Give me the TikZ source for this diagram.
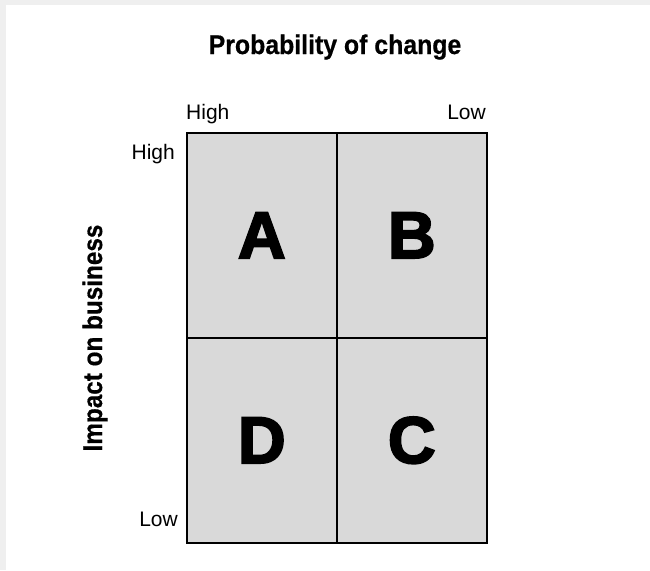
\documentclass[tikz,border=0pt]{standalone}
\usepackage{fontspec}
\usepackage{graphicx}
\setmainfont{Liberation Sans}
\newfontfamily\bigletter[FakeBold=3]{Liberation Sans Bold}
\newfontfamily\heavytitle[FakeBold=0.6]{Liberation Sans Bold}
\tikzset{
  cell/.style={draw=black, line width=1.6pt, fill=cellgray},
  axistitle/.style={font=\heavytitle\fontsize{27}{32}\selectfont, inner sep=0pt},
  ticklabel/.style={font=\fontsize{21}{25}\selectfont, inner sep=0pt},
  letter/.style={font=\bigletter\fontsize{66}{70}\selectfont, inner sep=0pt},
}
\definecolor{cellgray}{HTML}{D9D9D9}
\definecolor{edgegray}{HTML}{EFEFEF}
\begin{document}
\begin{tikzpicture}[x=1pt,y=-1pt]
\useasboundingbox (0,0) rectangle (650,570);
\fill[white] (0,0) rectangle (650,570);
\fill[edgegray] (0,0) rectangle (6,570);
\fill[edgegray] (0,0) rectangle (650,5);
% cells
\node[cell, minimum width=150pt, minimum height=205pt, anchor=north west, inner sep=0pt] (A) at (186,132) {};
\node[cell, minimum width=150pt, minimum height=205pt, anchor=north west, inner sep=0pt] (B) at (336,132) {};
\node[cell, minimum width=150pt, minimum height=205pt, anchor=north west, inner sep=0pt] (D) at (186,337) {};
\node[cell, minimum width=150pt, minimum height=205pt, anchor=north west, inner sep=0pt] (C) at (336,337) {};
\node[letter] (la) at (A.center) {A};
\node[letter] (lb) at (B.center) {B};
\node[letter] (ld) at (D.center) {D};
\node[letter] (lc) at (C.center) {C};
% titles
\node[axistitle, anchor=base] (ptitle) at (335,54) {\scalebox{0.92}[1]{Probability of change}};
\node[axistitle, anchor=base, rotate=90] (ititle) at (102,338) {\scalebox{0.9}[1]{Impact on business}};
% tick labels
\node[ticklabel, anchor=base west] (htop) at (186,119) {High};
\node[ticklabel, anchor=base east] (ltop) at (486,119) {Low};
\node[ticklabel, anchor=base east] (hleft) at (175,159) {High};
\node[ticklabel, anchor=base east] (lleft) at (178,526) {Low};
\end{tikzpicture}
\end{document}
